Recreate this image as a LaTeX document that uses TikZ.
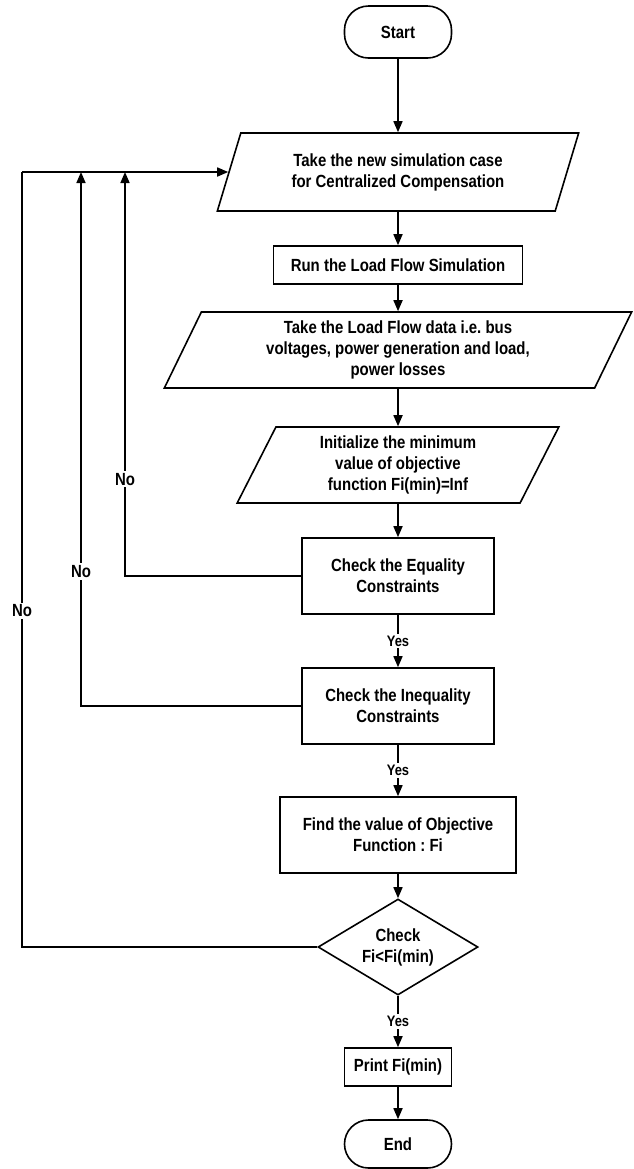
\documentclass[tikz,border=0pt]{standalone}
\usepackage{fontspec}
\setmainfont[FakeStretch=0.85]{Liberation Sans}
\usetikzlibrary{shapes.geometric}
\usetikzlibrary{arrows.meta}
\frenchspacing

\tikzset{
	txt/.style={font=\bfseries\fontsize{8.8}{10.5}\selectfont, align=center},
	proc/.style={txt, draw, line width=0.8pt, rectangle, inner sep=0pt},
	data/.style={txt, draw, line width=0.8pt, trapezium, trapezium left angle=67, trapezium right angle=113, trapezium stretches=true, inner sep=0pt},
	term/.style={txt, draw, line width=0.8pt, rectangle, rounded corners=12pt, minimum width=53.5pt},
	cond/.style={txt, draw, line width=0.8pt, diamond, aspect=1.67, inner sep=0pt, minimum width=80pt, minimum height=48pt},
	arr/.style={line width=0.8pt, -{Triangle[length=5.5pt,width=4.5pt]}},
	lbl/.style={fill=white, inner sep=1pt, font=\bfseries\fontsize{8.8}{10.5}\selectfont},
	yes/.style={fill=white, inner sep=1pt, font=\bfseries\fontsize{7.6}{9}\selectfont}
}

\begin{document}
\begin{tikzpicture}[x=0.5pt, y=-0.5pt]

		\useasboundingbox (0,0) rectangle (633,1169);

		\node[term, minimum height=26pt] (start) at (398,32) {Start};
		\node[data, minimum width=181pt, minimum height=39pt] (case) at (398,172)
			{Take the new simulation case\\for Centralized Compensation};
		\node[proc, minimum width=124.5pt, minimum height=19pt] (run) at (398,265)
			{Run the Load Flow Simulation};
		\node[data, minimum width=234pt, minimum height=38pt] (flowdata) at (398,350)
			{Take the Load Flow data i.e. bus\\voltages, power generation and load,\\power losses};
		\node[data, minimum width=161pt, minimum height=38pt] (init) at (398,465)
			{Initialize the minimum\\value of objective\\function Fi(min)=Inf};
		\node[proc, minimum width=96pt, minimum height=38pt] (equ) at (398,576)
			{Check the Equality\\Constraints};
		\node[proc, minimum width=96pt, minimum height=38pt] (inequ) at (398,706)
			{Check the Inequality\\Constraints};
		\node[proc, minimum width=118pt, minimum height=38pt] (find) at (398,835)
			{Find the value of Objective\\Function : Fi};
		\node[cond] (check) at (398,947) {Check\\Fi<Fi(min)};
		\node[proc, minimum width=53.5pt, minimum height=19pt] (print) at (398,1067)
			{Print Fi(min)};
		\node[term, minimum height=24pt] (end) at (398,1144) {End};

		% main flow
		\draw[arr] (start) -- (case);
		\draw[arr] (case) -- (run);
		\draw[arr] (run) -- (flowdata);
		\draw[arr] (flowdata) -- (init);
		\draw[arr] (init) -- (equ);
		\draw[arr] (equ) -- node[yes] {Yes} (inequ);
		\draw[arr] (inequ) -- node[yes] {Yes} (find);
		\draw[arr] (find) -- (check);
		\draw[arr] (check) -- node[yes] {Yes} (print);
		\draw[arr] (print) -- (end);

		% loops back
		\coordinate (backA) at (125,172);
		\coordinate (backB) at (81,172);
		\coordinate (backC) at (22,172);

		\draw[arr] (equ.west) -| node[lbl, pos=0.62] {No} (backA);
		\draw[arr] (inequ.west) -| node[lbl, pos=0.626] {No} (backB);
		\draw[line width=0.8pt] (check.west) -| node[lbl, pos=0.717] {No} (backC);
		\draw[arr] (backC) -- (case);

	\end{tikzpicture}
\end{document}
